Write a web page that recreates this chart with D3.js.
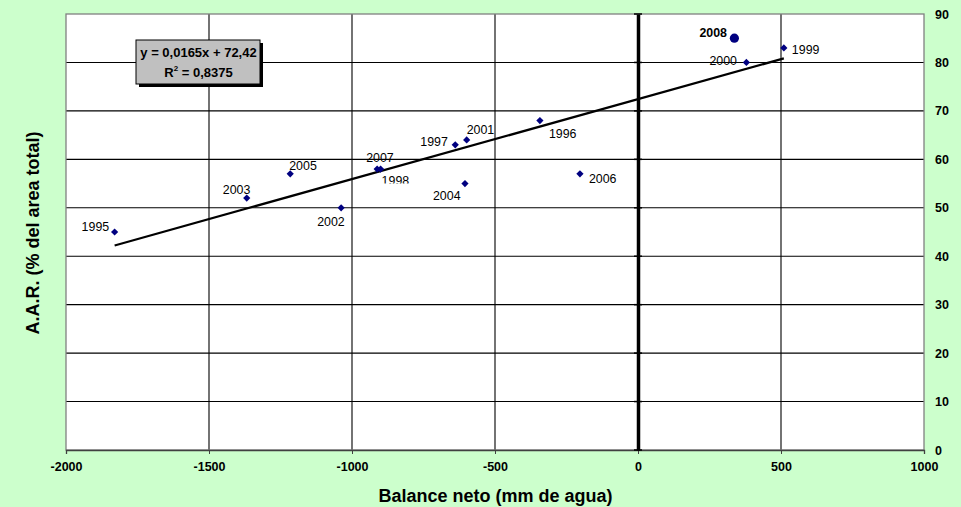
<!DOCTYPE html>
<html><head><meta charset="utf-8">
<script src="https://cdn.jsdelivr.net/npm/d3@7"></script>
<style>
html,body{margin:0;padding:0;background:#ccffcc;}
svg{display:block;font-family:Arial,"Liberation Sans",sans-serif;}
</style></head>
<body><svg id="c" width="961" height="507"></svg>
<script>
// ---- data ----
const years   = ["1995","2003","2005","2002","2007","1998","1997","2001","2004","1996","2006","2008","2000","1999"];
const balance = [-1830,-1368,-1216,-1038,-912,-900,-639,-599,-605,-343,-203,337,379,510];
const aar     = [45,52,57,50,58,58,63,64,55,68,57,85,80,83];
const highlightYear = "2008";
const xTicks = [-2000,-1500,-1000,-500,0,500,1000];
const yTicks = [0,10,20,30,40,50,60,70,80,90];
const slope = 0.0165, intercept = 72.42, r2 = "0,8375";
const eqLine1 = "y = 0,0165x + 72,42";
const xTitle = "Balance neto (mm de agua)";
const yTitle = "A.A.R. (% del area total)";

// label offsets (style)
const labelOffsets = {
 "1995":[-33,-1],"2003":[-24,-4],"2005":[-1,-4],"2002":[-24,18],"2007":[-11,-7.5],
 "1998":[1,16],"1997":[-35,1],"2001":[0,-6],"2004":[-32,16],"1996":[9,17],
 "2006":[9,9],"2008":[-35,-1],"2000":[-37,3],"1999":[8,6]
};

const svg = d3.select("#c");
const L=66, R=924, T=14, B=450;
const x = d3.scaleLinear().domain([-2000,1000]).range([L,R]);
const y = d3.scaleLinear().domain([0,90]).range([B,T]);

// plot area
svg.append("rect").attr("x",L).attr("y",T).attr("width",R-L).attr("height",B-T).attr("fill","#fff");

// gridlines
svg.append("g").selectAll("line").data(yTicks.filter(d=>d>0&&d<90)).join("line")
  .attr("x1",L).attr("x2",R).attr("y1",d=>y(d)).attr("y2",d=>y(d))
  .attr("stroke","#000").attr("stroke-width",1.1);
svg.append("g").selectAll("line").data(xTicks.filter(d=>d>-2000&&d<1000&&d!==0)).join("line")
  .attr("y1",T).attr("y2",B).attr("x1",d=>x(d)).attr("x2",d=>x(d))
  .attr("stroke","#000").attr("stroke-width",1.1);

// plot border
svg.append("rect").attr("x",L).attr("y",T).attr("width",R-L).attr("height",B-T)
  .attr("fill","none").attr("stroke","#808080").attr("stroke-width",1.3);

// x axis
const xAxis = d3.axisBottom(x).tickValues(xTicks).tickSize(4).tickPadding(8).tickFormat(d3.format("d"));
const gx = svg.append("g").attr("transform",`translate(0,${B})`).call(xAxis);
gx.select(".domain").attr("stroke","#404040").attr("stroke-width",1.3);
gx.selectAll(".tick line").attr("stroke","#404040");
gx.selectAll("text").attr("font-size","12.5px").attr("font-weight","bold").attr("fill","#000")
  .attr("font-family","Arial, 'Liberation Sans', sans-serif").text(d=>String(d));

// y axis at x=0 (thick), labels on right
const gy = svg.append("g").attr("transform",`translate(${x(0)},0)`)
  .call(d3.axisRight(y).tickValues(yTicks).tickSize(0).tickFormat(""));
gy.select(".domain").attr("stroke","#000").attr("stroke-width",3.5);
svg.append("g").selectAll("line").data(yTicks).join("line")
  .attr("x1",x(0)-4).attr("x2",x(0)+4).attr("y1",d=>y(d)).attr("y2",d=>y(d))
  .attr("stroke","#000").attr("stroke-width",1.5);
svg.append("g").selectAll("text").data(yTicks).join("text")
  .attr("x",935).attr("y",d=>y(d)+4.5).text(d=>d)
  .attr("font-size","12.5px").attr("font-weight","bold").attr("fill","#000");

// trendline
const xmin = d3.min(balance), xmax = d3.max(balance);
svg.append("line").attr("x1",x(xmin)).attr("y1",y(slope*xmin+intercept))
  .attr("x2",x(xmax)).attr("y2",y(slope*xmax+intercept))
  .attr("stroke","#000").attr("stroke-width",2.2);

// points
const pts = years.map((yr,i)=>({yr, bx:balance[i], ay:aar[i]}));
const diamond = d3.symbol().type(d3.symbolSquare).size(26);
svg.append("g").selectAll("path").data(pts.filter(p=>p.yr!==highlightYear)).join("path")
  .attr("d",diamond).attr("transform",p=>`translate(${x(p.bx)},${y(p.ay)}) rotate(45)`).attr("fill","#000080");
svg.append("g").selectAll("circle").data(pts.filter(p=>p.yr===highlightYear)).join("circle")
  .attr("cx",p=>x(p.bx)).attr("cy",p=>y(p.ay)).attr("r",4.6).attr("fill","#000080");

// labels
const defs = svg.append("defs");
defs.append("clipPath").attr("id","clip1998").append("rect")
  .attr("x",0).attr("y",0).attr("width",961).attr("height",183.5);
svg.append("g").selectAll("text").data(pts).join("text")
  .attr("x",p=>x(p.bx)+labelOffsets[p.yr][0]).attr("y",p=>y(p.ay)+labelOffsets[p.yr][1])
  .attr("clip-path",p=>p.yr==="1998"?"url(#clip1998)":null)
  .text(p=>p.yr).attr("font-size","12.4px").attr("fill","#000")
  .attr("font-weight",p=>p.yr===highlightYear?"bold":"normal");

// equation box
const bx0=136, by0=40, bw=124, bh=44;
svg.append("rect").attr("x",bx0+3).attr("y",by0+3).attr("width",bw).attr("height",bh).attr("fill","#000");
svg.append("rect").attr("x",bx0).attr("y",by0).attr("width",bw).attr("height",bh)
  .attr("fill","#c0c0c0").attr("stroke","#000").attr("stroke-width",1);
const cx = bx0+bw/2+0.5;
svg.append("text").attr("x",cx).attr("y",57).attr("text-anchor","middle")
  .attr("font-size","13px").attr("font-weight","bold").text(eqLine1);
const t2 = svg.append("text").attr("x",cx).attr("y",77).attr("text-anchor","middle")
  .attr("font-size","13px").attr("font-weight","bold");
t2.append("tspan").text("R");
t2.append("tspan").attr("dy",-6).attr("font-size","8px").text("2");
t2.append("tspan").attr("dy",6).text(" = " + r2);

// axis titles
svg.append("text").attr("x",495.5).attr("y",502).attr("text-anchor","middle")
  .attr("font-size","18px").attr("font-weight","bold").text(xTitle);
svg.append("text").attr("transform","translate(39,233) rotate(-90)").attr("text-anchor","middle")
  .attr("font-size","18px").attr("font-weight","bold").text(yTitle);
</script></body></html>
